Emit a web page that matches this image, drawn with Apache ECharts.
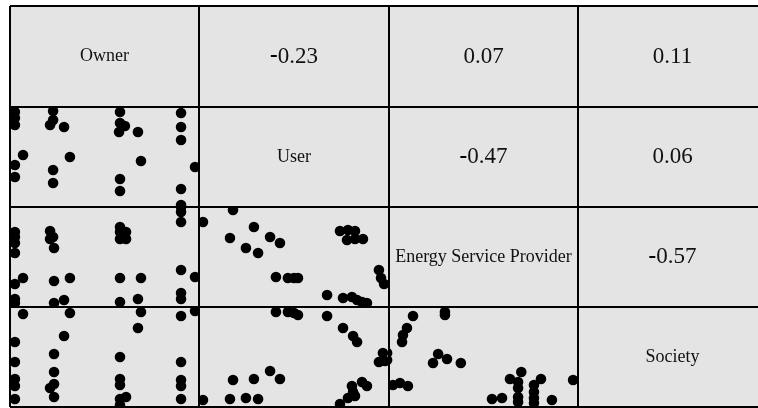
<!DOCTYPE html>
<html>
<head>
<meta charset="utf-8">
<script src="https://cdn.jsdelivr.net/npm/echarts@6/dist/echarts.min.js"></script>
<style>
html, body { margin: 0; padding: 0; background: #fff; }
#chart { width: 758px; height: 408px; }
</style>
</head>
<body>
<div id="chart"></div>
<script>
// variable names on the diagonal
var variables = ['Owner', 'User', 'Energy Service Provider', 'Society'];

// upper triangle: [row, col, r]
var correlations = [
    [0, 1, -0.23], [0, 2, 0.07], [0, 3, 0.11],
    [1, 2, -0.47], [1, 3, 0.06],
    [2, 3, -0.57]
];

// lower triangle scatter panels, values on a 0-100 scale per variable
var ownerUser = [
    [2.6, 95], [2.6, 89], [2.6, 82], [22.8, 96], [22.8, 87], [21.2, 82], [28.6, 80],
    [58.2, 95], [58.2, 84], [60.8, 81], [57.7, 75], [67.7, 75],
    [90.5, 94], [90.5, 80], [90.5, 67],
    [6.9, 52], [2.6, 42], [2.6, 30], [31.7, 50], [22.8, 37], [22.8, 24],
    [69.3, 46], [58.2, 28], [58.2, 16], [97.9, 40], [90.5, 18], [90.5, 2]
];
var ownerEsp = [
    [90.5, 100], [90.5, 95], [90.5, 85],
    [2.6, 75], [2.6, 70], [2.6, 64], [2.6, 54],
    [21.2, 76], [22.8, 70], [21.2, 68], [23.3, 59],
    [58.2, 80], [61.4, 75], [58.2, 75], [58.2, 68], [61.4, 68],
    [6.9, 29], [2.6, 23], [23.3, 26], [31.7, 29], [58.2, 29], [69.3, 29],
    [90.5, 37], [97.9, 30],
    [2.6, 8], [2.6, 4], [23.3, 4], [28.6, 7], [58.2, 5], [67.7, 8], [90.5, 14], [90.5, 8]
];
var userEsp = [
    [17.9, 97], [2.1, 85], [28.9, 80], [16.3, 69], [37.4, 70], [42.6, 64], [24.7, 59], [31.1, 54],
    [74.2, 76], [78.4, 77], [82.1, 76], [77.9, 67], [82.1, 68], [86.3, 68],
    [40.5, 30], [46.8, 29], [50, 29], [52.1, 29],
    [94.7, 37], [95.8, 29], [97.4, 23],
    [67.4, 12], [75.8, 9], [80.5, 10], [83.2, 7], [85.8, 5], [88.4, 4]
];
var ownerSociety = [
    [6.9, 93], [31.7, 94], [69.3, 95], [90.5, 91], [97.9, 96],
    [67.7, 79], [28.6, 71], [2.6, 65],
    [23.3, 53], [58.2, 50], [2.6, 45], [90.5, 45],
    [23.3, 35], [2.6, 28], [2.6, 21], [23.3, 23], [21.2, 19], [23.3, 10],
    [58.2, 28], [58.2, 22], [90.5, 27], [90.5, 21],
    [2.6, 8], [58.2, 8], [61.4, 10], [58.2, 2], [90.5, 8]
];
var userSociety = [
    [40.5, 95], [46.8, 95], [50, 94], [52.1, 92], [67.4, 91],
    [75.8, 79], [81.1, 71], [83.2, 65],
    [96.8, 54], [94.7, 45], [97.9, 46],
    [17.9, 27], [28.9, 28], [37.4, 36], [42.6, 28],
    [2.1, 7], [16.3, 8], [24.7, 9], [31.1, 8],
    [80.5, 21], [85.8, 25], [88.4, 21], [81.1, 15], [78.4, 9], [74.2, 3], [82.1, 11]
];
var espSociety = [
    [12.7, 91], [29.6, 95], [29.6, 92],
    [9.5, 79], [7.4, 72], [6.9, 65],
    [-1, 54], [-1, 47],
    [26, 53], [23.3, 44], [30.7, 48], [38, 44],
    [2.1, 22], [5.8, 24], [10, 21],
    [70, 35], [64, 28], [68.3, 25], [68.3, 19], [68.3, 10], [68.3, 5],
    [80.4, 28], [76.7, 22], [76.7, 15], [76.7, 9], [76.7, 4],
    [54.5, 8], [59.8, 9], [86.2, 7],
    [97.4, 27]
];

var panels = [
    { row: 1, col: 0, data: ownerUser },
    { row: 2, col: 0, data: ownerEsp },
    { row: 2, col: 1, data: userEsp },
    { row: 3, col: 0, data: ownerSociety },
    { row: 3, col: 1, data: userSociety },
    { row: 3, col: 2, data: espSociety }
];

// cell edges in px (the right column runs past the window)
var colEdges = [10, 199, 389, 578, 767];
var rowEdges = [6, 107, 207, 307, 407];

function cellCenter(row, col) {
    return [(colEdges[col] + colEdges[col + 1]) / 2, (rowEdges[row] + rowEdges[row + 1]) / 2];
}

var graphic = [];
graphic.push({
    type: 'rect', z: 0,
    shape: { x: colEdges[0], y: rowEdges[0], width: colEdges[4] - colEdges[0], height: rowEdges[4] - rowEdges[0] },
    style: { fill: '#e4e4e4' }
});
colEdges.forEach(function (x) {
    graphic.push({ type: 'line', z: 50, shape: { x1: x, y1: rowEdges[0], x2: x, y2: rowEdges[4] }, style: { stroke: '#000', lineWidth: 2 } });
});
rowEdges.forEach(function (y) {
    graphic.push({ type: 'line', z: 50, shape: { x1: colEdges[0], y1: y, x2: colEdges[4], y2: y }, style: { stroke: '#000', lineWidth: 2 } });
});
variables.forEach(function (name, i) {
    var c = cellCenter(i, i);
    graphic.push({
        type: 'text', z: 60, x: c[0], y: c[1],
        style: { text: name, fontSize: 18, fontFamily: '"Liberation Serif", serif', fill: '#111', align: 'center', verticalAlign: 'middle' }
    });
});
correlations.forEach(function (d) {
    var c = cellCenter(d[0], d[1]);
    var txt = d[2] < 0 ? '{m|-}{n|' + Math.abs(d[2]).toFixed(2) + '}' : '{n|' + d[2].toFixed(2) + '}';
    graphic.push({
        type: 'text', z: 60, x: c[0], y: c[1],
        style: {
            text: txt, fontSize: 23, fontFamily: '"Liberation Serif", serif', fill: '#111', align: 'center', verticalAlign: 'middle',
            rich: {
                m: { fontSize: 23, fontWeight: 'bold', fontFamily: '"Liberation Serif", serif', fill: '#000' },
                n: { fontSize: 23, fontFamily: '"Liberation Serif", serif', fill: '#111' }
            }
        }
    });
});

var grid = [], xAxis = [], yAxis = [], series = [];
panels.forEach(function (p, i) {
    grid.push({
        left: colEdges[p.col], top: rowEdges[p.row],
        width: colEdges[p.col + 1] - colEdges[p.col],
        height: rowEdges[p.row + 1] - rowEdges[p.row],
        show: false
    });
    xAxis.push({ gridIndex: i, type: 'value', min: 0, max: 100, show: false });
    yAxis.push({ gridIndex: i, type: 'value', min: 0, max: 100, show: false });
    series.push({
        type: 'custom',
        xAxisIndex: i, yAxisIndex: i,
        clip: true,
        data: p.data,
        encode: { x: 0, y: 1 },
        renderItem: function (params, api) {
            var pt = api.coord([api.value(0), api.value(1)]);
            return { type: 'circle', shape: { cx: pt[0], cy: pt[1], r: 5.3 }, style: { fill: '#000' } };
        }
    });
});

var option = {
    animation: false,
    grid: grid,
    xAxis: xAxis,
    yAxis: yAxis,
    graphic: graphic,
    series: series
};

var chart = echarts.init(document.getElementById('chart'));
chart.setOption(option);
</script>
</body>
</html>
